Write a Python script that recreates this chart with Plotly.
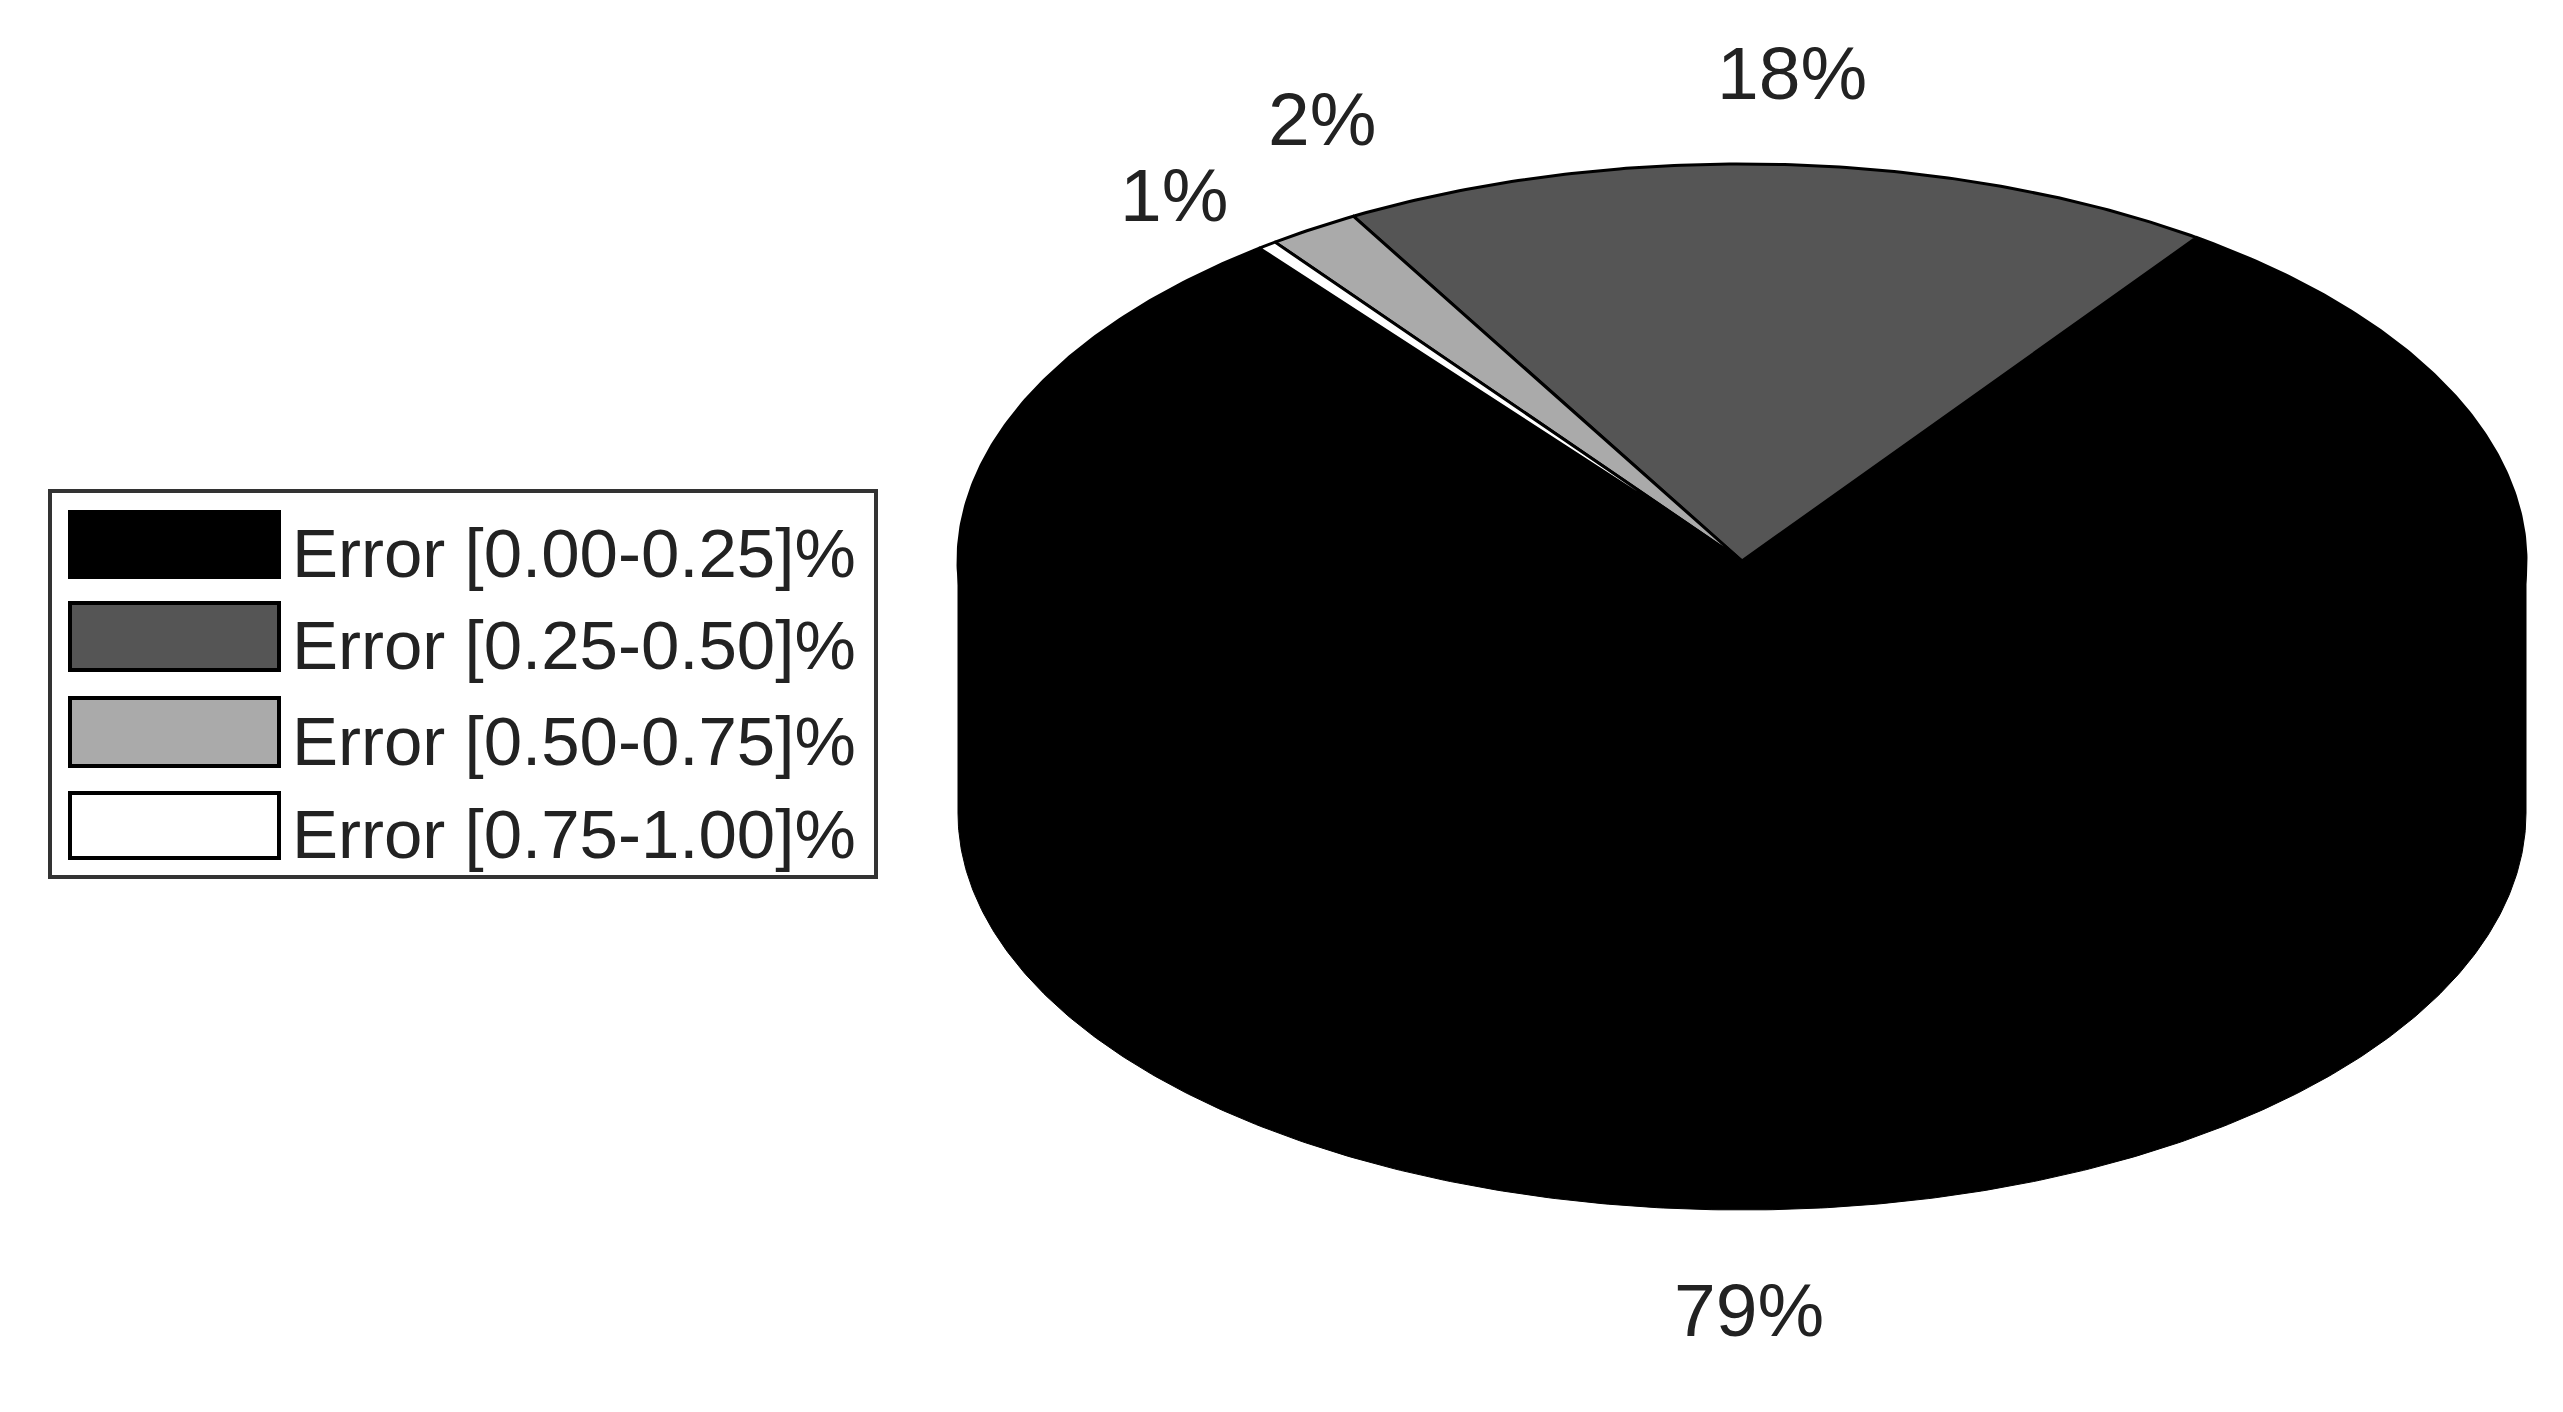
import numpy as np
import plotly.graph_objects as go

# slices, in the order they are drawn counter-clockwise from the start angle
names = ['Error [0.00-0.25]%', 'Error [0.25-0.50]%', 'Error [0.50-0.75]%', 'Error [0.75-1.00]%']
values = [79.6, 18.1, 1.9, 0.4]
pct_labels = ['79%', '18%', '2%', '1%']
colors = ['#000000', '#555555', '#AAAAAA', '#FFFFFF']

W, H = 2563, 1412
# pie geometry on the page, in pixels
cx, cy = 1742, 561
rx, ry = 784, 397
depth = 252 / ry
start_angle = 128.0

# where the percent labels sit, in pixels
label_pos = [(1749, 1310), (1792, 73), (1322, 119), (1174, 195)]


def paper_x(px):
    return px / W


def paper_y(px):
    return 1 - px / H


sweeps = np.array(values) / sum(values) * 360
ends = start_angle + np.cumsum(sweeps)
starts = ends - sweeps

walls = []
tops = []
for name, color, a0, a1 in zip(names, colors, starts, ends):
    n = max(int((a1 - a0) * 2), 4)
    t = np.radians(np.linspace(a0, a1, n))
    xs, ys = np.cos(t), np.sin(t)
    tops.append(go.Scatter(
        x=np.concatenate([[0], xs, [0]]),
        y=np.concatenate([[0], ys, [0]]),
        mode='lines', fill='toself', fillcolor=color,
        line=dict(color='#000000', width=3),
        name=name, hoverinfo='name', showlegend=False))
    # only the front half of the rim can be seen
    w0, w1 = max(a0, 180), min(a1, 360)
    if w1 > w0:
        t = np.radians(np.linspace(w0, w1, int((w1 - w0) * 2)))
        xs, ys = np.cos(t), np.sin(t)
        walls.append(go.Scatter(
            x=np.concatenate([xs, xs[::-1], xs[:1]]),
            y=np.concatenate([ys, ys[::-1] - depth, ys[:1]]),
            mode='lines', fill='toself', fillcolor=color,
            line=dict(color='#000000', width=1),
            name=name, hoverinfo='name', showlegend=False))

fig = go.Figure(data=walls + tops)

# legend is drawn by hand, plotly swatches can't get this big
shapes = [dict(type='rect', xref='paper', yref='paper',
               x0=paper_x(50), x1=paper_x(876), y0=paper_y(491), y1=paper_y(877),
               fillcolor='#FFFFFF', line=dict(color='#333333', width=4))]
swatch_rows = [(512, 577), (603, 670), (698, 766), (793, 858)]
annotations = []
for name, color, (top, bottom) in zip(names, colors, swatch_rows):
    shapes.append(dict(type='rect', xref='paper', yref='paper',
                       x0=paper_x(70), x1=paper_x(279), y0=paper_y(top), y1=paper_y(bottom),
                       fillcolor=color, line=dict(color='#000000', width=4)))
    annotations.append(dict(text=name, xref='paper', yref='paper',
                            x=paper_x(290), y=paper_y((top + bottom) / 2 + 9),
                            xanchor='left', yanchor='middle', showarrow=False,
                            font=dict(family='Liberation Sans', size=69, color='#222222')))

for label, (px, py) in zip(pct_labels, label_pos):
    annotations.append(dict(text=label, xref='paper', yref='paper',
                            x=paper_x(px), y=paper_y(py),
                            xanchor='center', yanchor='middle', showarrow=False,
                            font=dict(family='Liberation Sans', size=75, color='#222222')))

axis = dict(visible=False, fixedrange=True)
fig.update_layout(
    width=W, height=H,
    margin=dict(l=0, r=0, t=0, b=0),
    paper_bgcolor='#FFFFFF', plot_bgcolor='#FFFFFF',
    showlegend=False,
    xaxis=dict(axis, range=[-cx / rx, (W - cx) / rx]),
    yaxis=dict(axis, range=[-(H - cy) / ry, cy / ry]),
    shapes=shapes, annotations=annotations,
)

fig.write_html('out.html', config=dict(displayModeBar=False),
               post_script="document.body.style.margin='0';")
